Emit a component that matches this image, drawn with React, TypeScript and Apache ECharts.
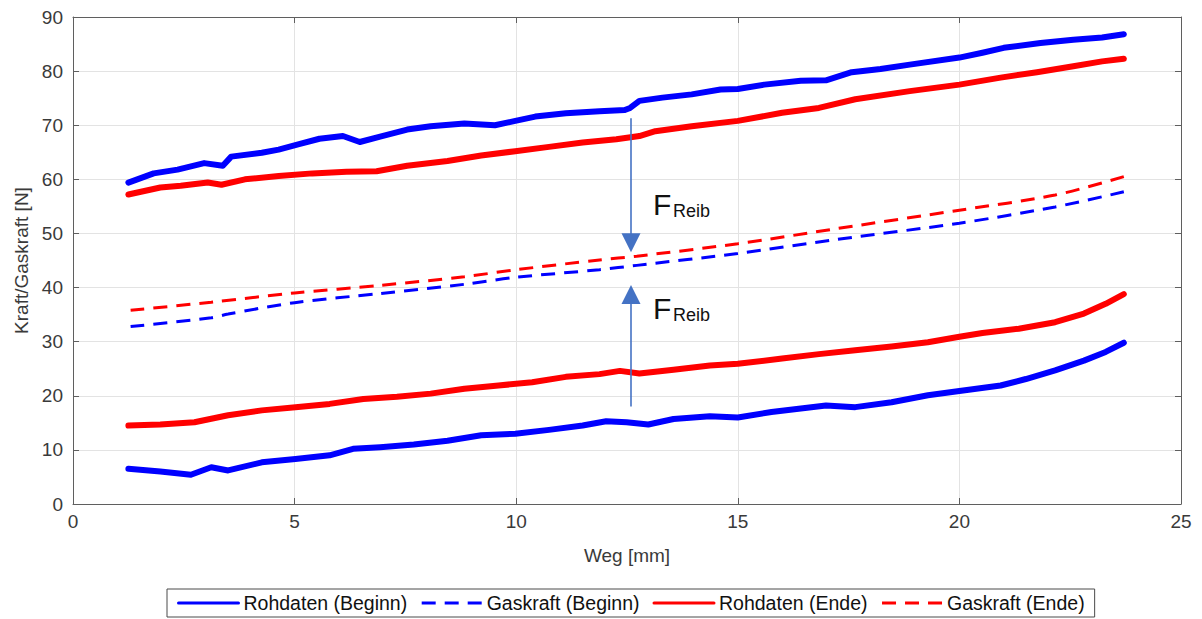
import React, { useEffect, useRef } from "react";
import * as echarts from "echarts";

// Rohdaten (Beginn) – upper curve
const rohBeginnObenX = [1.25, 1.82, 2.36, 2.96, 3.38, 3.57, 4.26, 4.64, 5.1, 5.56, 6.09, 6.47, 6.93, 7.54, 8.07, 8.83, 9.52, 9.98, 10.43, 11.12, 11.88, 12.45, 12.57, 12.78, 13.3, 13.96, 14.61, 15.0, 15.6, 16.42, 16.99, 17.57, 18.22, 18.88, 20.0, 20.52, 21.0, 21.83, 22.57, 23.22, 23.71];
const rohBeginnObenY = [59.4, 61.1, 61.8, 63.0, 62.5, 64.2, 64.9, 65.5, 66.5, 67.5, 68.0, 66.9, 67.9, 69.2, 69.8, 70.3, 70.0, 70.8, 71.6, 72.2, 72.6, 72.8, 73.2, 74.5, 75.1, 75.7, 76.6, 76.7, 77.5, 78.2, 78.3, 79.8, 80.4, 81.2, 82.5, 83.4, 84.3, 85.2, 85.8, 86.2, 86.8];

// Rohdaten (Beginn) – lower curve
const rohBeginnUntenX = [1.25, 1.97, 2.66, 3.12, 3.5, 4.26, 5.02, 5.79, 6.32, 6.93, 7.69, 8.45, 9.21, 9.98, 10.74, 11.5, 12.03, 12.49, 12.98, 13.55, 14.37, 15.0, 15.76, 16.99, 17.65, 18.47, 19.29, 20.0, 20.93, 21.5, 22.16, 22.81, 23.3, 23.71];
const rohBeginnUntenY = [6.5, 6.0, 5.4, 6.8, 6.2, 7.7, 8.3, 9.0, 10.2, 10.5, 11.0, 11.7, 12.7, 13.0, 13.7, 14.5, 15.3, 15.1, 14.7, 15.7, 16.2, 16.0, 17.0, 18.2, 17.9, 18.8, 20.1, 20.9, 21.9, 23.1, 24.7, 26.5, 28.1, 29.8];

// Rohdaten (Ende) – upper curve
const rohEndeObenX = [1.25, 1.97, 2.43, 3.04, 3.35, 3.88, 4.64, 5.4, 6.17, 6.85, 7.54, 8.45, 9.21, 9.98, 10.74, 11.5, 12.26, 12.78, 13.14, 13.96, 15.0, 16.0, 16.83, 17.65, 18.88, 20.0, 20.93, 21.75, 22.57, 23.22, 23.71];
const rohEndeObenY = [57.2, 58.5, 58.8, 59.4, 59.0, 60.0, 60.6, 61.1, 61.4, 61.5, 62.5, 63.4, 64.4, 65.2, 66.0, 66.8, 67.4, 68.0, 68.9, 69.8, 70.8, 72.3, 73.2, 74.8, 76.3, 77.5, 78.8, 79.8, 80.9, 81.8, 82.3];

// Rohdaten (Ende) – lower curve
const rohEndeUntenX = [1.25, 1.97, 2.74, 3.5, 4.26, 5.02, 5.79, 6.55, 7.31, 8.07, 8.83, 9.6, 10.36, 11.12, 11.88, 12.34, 12.78, 13.55, 14.37, 15.0, 16.0, 16.83, 17.65, 18.47, 19.29, 20.0, 20.52, 21.34, 22.16, 22.81, 23.3, 23.71];
const rohEndeUntenY = [14.5, 14.7, 15.1, 16.4, 17.3, 17.9, 18.5, 19.4, 19.8, 20.4, 21.3, 21.9, 22.5, 23.5, 24.0, 24.6, 24.1, 24.8, 25.6, 25.9, 26.9, 27.7, 28.4, 29.1, 29.9, 30.9, 31.6, 32.4, 33.6, 35.2, 37.0, 38.8];

// Gaskraft (Beginn)
const gasBeginnX = [1.3, 3.12, 3.5, 5.0, 6.93, 8.83, 10.0, 11.88, 12.72, 15.0, 17.24, 20.0, 22.16, 23.71];
const gasBeginnY = [32.8, 34.4, 35.1, 37.2, 38.9, 40.6, 41.9, 43.3, 44.1, 46.3, 48.9, 51.9, 54.9, 57.7];

// Gaskraft (Ende)
const gasEndeX = [1.3, 3.12, 5.0, 6.93, 8.83, 10.0, 11.88, 12.72, 15.0, 17.24, 20.0, 22.16, 23.71];
const gasEndeY = [35.8, 37.3, 39.0, 40.4, 42.0, 43.3, 45.1, 45.8, 48.1, 50.9, 54.3, 57.1, 60.5];

// Annotation arrows (data coordinates)
const arrowX = 12.59;
const arrowDownFrom = 71.3;
const arrowDownTo = 48.3;
const arrowUpFrom = 18.0;
const arrowUpTo = 38.7;

const legendNames = ["Rohdaten (Beginn)", "Gaskraft (Beginn)", "Rohdaten (Ende)", "Gaskraft (Ende)"];

const zip = (xs: number[], ys: number[]) => xs.map((x, i) => [x, ys[i]]);

const FONT = "'Liberation Sans', Arial, Helvetica, sans-serif";
const AXIS_COLOR = "#5f5f5f";
const LABEL_COLOR = "#3a3a3a";
const BLUE = "#0000ff";
const RED = "#ff0000";
const ARROW = "#4472c4";

export default function App() {
  const ref = useRef<HTMLDivElement>(null);

  useEffect(() => {
    document.body.style.margin = "0";
    if (!ref.current) return;
    const chart = echarts.init(ref.current, undefined, { renderer: "svg" });

    const solid = (name: string, data: number[][], color: string) => ({
      name,
      type: "line",
      data,
      showSymbol: false,
      symbol: "none",
      color,
      lineStyle: { color, width: 6, type: "solid", join: "round", cap: "round" },
      z: 3,
    });
    const dashed = (name: string, data: number[][], color: string) => ({
      name,
      type: "line",
      data,
      showSymbol: false,
      symbol: "none",
      smooth: 0.3,
      color,
      lineStyle: { color, width: 3, type: [14, 9] },
      z: 3,
    });

    const axisCommon = {
      type: "value",
      axisLine: { show: true, onZero: false, lineStyle: { color: AXIS_COLOR, width: 1 } },
      axisTick: { show: true, inside: true, length: 6, lineStyle: { color: AXIS_COLOR } },
    };

    chart.setOption({
      animation: false,
      backgroundColor: "#ffffff",
      textStyle: { fontFamily: FONT },
      grid: { left: 73, right: 21, top: 17, bottom: 115, containLabel: false },
      xAxis: [
        {
          ...axisCommon,
          min: 0,
          max: 25,
          interval: 5,
          position: "bottom",
          name: "Weg [mm]",
          nameLocation: "middle",
          nameGap: 42,
          nameTextStyle: { fontSize: 19, color: LABEL_COLOR, fontFamily: FONT },
          axisLabel: { fontSize: 19, color: LABEL_COLOR, margin: 8, fontFamily: FONT },
          splitLine: { show: true, lineStyle: { color: "#e3e3e3", width: 1 } },
        },
        {
          ...axisCommon,
          min: 0,
          max: 25,
          interval: 5,
          position: "top",
          axisLabel: { show: false },
          splitLine: { show: false },
        },
      ],
      yAxis: [
        {
          ...axisCommon,
          min: 0,
          max: 90,
          interval: 10,
          position: "left",
          name: "Kraft/Gaskraft [N]",
          nameLocation: "middle",
          nameGap: 42,
          nameTextStyle: { fontSize: 19, color: LABEL_COLOR, fontFamily: FONT },
          axisLabel: { fontSize: 19, color: LABEL_COLOR, margin: 10, fontFamily: FONT },
          splitLine: { show: true, lineStyle: { color: "#e3e3e3", width: 1 } },
        },
        {
          ...axisCommon,
          min: 0,
          max: 90,
          interval: 10,
          position: "right",
          axisLabel: { show: false },
          splitLine: { show: false },
        },
      ],
      legend: {
        data: legendNames,
        left: 167,
        top: 589,
        orient: "horizontal",
        itemWidth: 60,
        itemHeight: 12,
        itemGap: 13,
        padding: [4, 10, 4, 10],
        borderColor: "#4a4a4a",
        borderWidth: 1,
        borderRadius: 0,
        backgroundColor: "#ffffff",
        textStyle: { fontSize: 19.5, color: "#111111", fontFamily: FONT },
        itemStyle: { opacity: 0 },
        lineStyle: { width: 3 },
      },
      series: [
        solid(legendNames[0], zip(rohBeginnObenX, rohBeginnObenY), BLUE),
        solid(legendNames[0], zip(rohBeginnUntenX, rohBeginnUntenY), BLUE),
        dashed(legendNames[1], zip(gasBeginnX, gasBeginnY), BLUE),
        solid(legendNames[2], zip(rohEndeObenX, rohEndeObenY), RED),
        solid(legendNames[2], zip(rohEndeUntenX, rohEndeUntenY), RED),
        dashed(legendNames[3], zip(gasEndeX, gasEndeY), RED),
        {
          name: "arrows",
          type: "line",
          data: [],
          silent: true,
          markLine: {
            silent: true,
            animation: false,
            symbol: ["none", "triangle"],
            symbolSize: 19,
            label: { show: false },
            lineStyle: { color: ARROW, width: 1.6, type: "solid" },
            itemStyle: { color: ARROW },
            emphasis: { disabled: true },
            data: [
              [{ coord: [arrowX, arrowDownFrom] }, { coord: [arrowX, arrowDownTo] }],
              [{ coord: [arrowX, arrowUpFrom] }, { coord: [arrowX, arrowUpTo] }],
            ],
          },
          z: 4,
        },
      ],
      graphic: [
        { type: "text", left: 653, top: 189, style: { text: "F", font: `30px ${FONT}`, fill: "#111111" } },
        { type: "text", left: 673, top: 202, style: { text: "Reib", font: `18px ${FONT}`, fill: "#111111" } },
        { type: "text", left: 653, top: 293, style: { text: "F", font: `30px ${FONT}`, fill: "#111111" } },
        { type: "text", left: 673, top: 306, style: { text: "Reib", font: `18px ${FONT}`, fill: "#111111" } },
      ],
    });

    return () => {
      chart.dispose();
    };
  }, []);

  return <div ref={ref} style={{ width: 1202, height: 619 }} />;
}
